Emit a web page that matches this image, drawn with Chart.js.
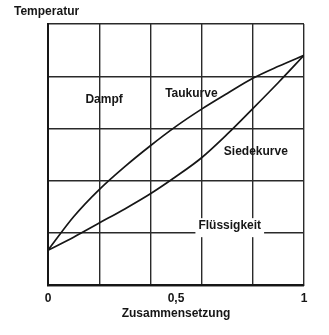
<!DOCTYPE html>
<html><head><meta charset="utf-8">
<script src="https://cdn.jsdelivr.net/npm/chart.js@4"></script>
<style>html,body{margin:0;padding:0;background:#fff;}</style>
</head><body>
<canvas id="c" width="329" height="335"></canvas>
<script>
const composition = [0, 0.1, 0.2, 0.3, 0.4, 0.5, 0.6, 0.7, 0.8, 0.9, 1.0];
const dewCurve = [0.67, 1.31, 1.83, 2.27, 2.67, 3.04, 3.37, 3.67, 3.96, 4.19, 4.40];
const boilingCurve = [0.67, 0.92, 1.19, 1.46, 1.75, 2.08, 2.44, 2.89, 3.38, 3.88, 4.40];
const xTickValues = [0, 0.2, 0.4, 0.5, 0.6, 0.8, 1];
const xTickLabels = {'0': '0', '0.5': '0,5', '1': '1'};
const xTitle = 'Zusammensetzung';
const yTitle = 'Temperatur';
const regionLabels = ['Dampf', 'Taukurve', 'Siedekurve', 'Flüssigkeit'];
const regionLabelX = [0.219, 0.56, 0.812, 0.71];
const regionLabelY = [3.55, 3.66, 2.56, 1.13];

const FONT = '"Liberation Sans", Arial, sans-serif';
const INK = '#161616';

const toPts = ys => composition.map((x, i) => ({x, y: ys[i]}));

const textPlugin = {
  id: 'texts',
  afterDraw(chart) {
    const {ctx, chartArea, scales: {x, y}} = chart;
    ctx.save();
    ctx.font = 'bold 12px ' + FONT;
    ctx.textAlign = 'center';
    ctx.textBaseline = 'middle';
    regionLabels.forEach((t, i) => {
      const px = x.getPixelForValue(regionLabelX[i]);
      const py = y.getPixelForValue(regionLabelY[i]);
      if (i === 3) {
        const w = ctx.measureText(t).width;
        ctx.fillStyle = '#fff';
        ctx.fillRect(px - w / 2 - 3, py - 8, w + 6, 19);
      }
      ctx.fillStyle = INK;
      ctx.fillText(t, px, py);
    });
    ctx.textAlign = 'left';
    ctx.fillText(yTitle, chartArea.left - 34, chartArea.top - 12);
    ctx.restore();
  }
};

new Chart(document.getElementById('c'), {
  type: 'line',
  data: {
    datasets: [
      {label: 'Taukurve', data: toPts(dewCurve), borderColor: INK, borderWidth: 1.7,
       pointRadius: 0, cubicInterpolationMode: 'monotone', fill: false},
      {label: 'Siedekurve', data: toPts(boilingCurve), borderColor: INK, borderWidth: 1.7,
       pointRadius: 0, cubicInterpolationMode: 'monotone', fill: false}
    ]
  },
  options: {
    responsive: false,
    animation: false,
    devicePixelRatio: 1,
    layout: {padding: {left: 48, right: 25, top: 24, bottom: 14}},
    plugins: {legend: {display: false}, tooltip: {enabled: false}, title: {display: false}},
    scales: {
      x: {
        type: 'linear', min: 0, max: 1,
        afterBuildTicks: s => { s.ticks = xTickValues.map(v => ({value: v})); },
        ticks: {
          autoSkip: false, maxRotation: 0, padding: 6, color: INK,
          font: {family: FONT, size: 12, weight: 'bold'},
          callback: v => xTickLabels[String(v)] || ''
        },
        grid: {
          drawTicks: false, lineWidth: 1.4,
          color: c => (c.tick && xTickLabels[String(c.tick.value)] === '0,5') ? 'rgba(0,0,0,0)' : '#2a2a2a'
        },
        border: {color: INK, width: 2},
        title: {display: true, text: xTitle, color: INK, padding: {top: -5, bottom: 0},
                font: {family: FONT, size: 12, weight: 'bold'}}
      },
      y: {
        type: 'linear', min: 0, max: 5,
        ticks: {display: false, stepSize: 1},
        grid: {drawTicks: false, lineWidth: 1.4, color: '#2a2a2a'},
        border: {color: INK, width: 2}
      }
    }
  },
  plugins: [textPlugin]
});
</script>
</body></html>
